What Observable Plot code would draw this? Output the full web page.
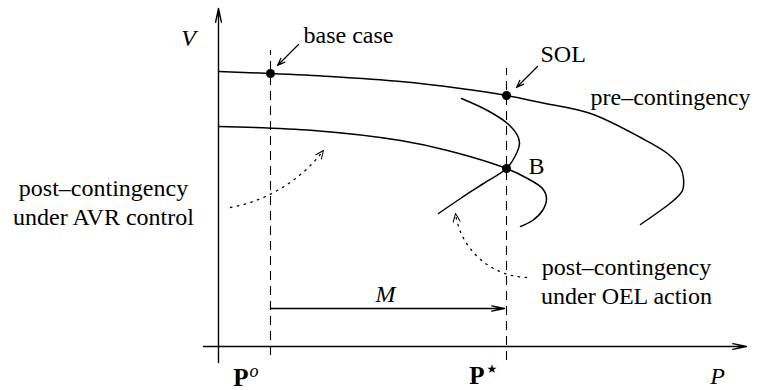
<!DOCTYPE html>
<html>
<head>
<meta charset="utf-8">
<script src="https://cdn.jsdelivr.net/npm/d3@7"></script>
<script src="https://cdn.jsdelivr.net/npm/@observablehq/plot@0.6"></script>
<style>
  body { margin: 0; background: #fff; }
</style>
</head>
<body>
<div id="chart"></div>
<script>
// Loading levels on the P axis
const P0 = 1.04;     // base-case loading
const Pstar = 5.76;  // loading at the SOL and at point B

// P–V curves, [P, V] in drawing order
const preCurve = [[0, 5.50], [1.04, 5.46], [2.24, 5.40], [3.64, 5.30], [4.84, 5.16], [5.76, 5.02],
  [6.44, 4.88], [7.44, 4.66], [8.44, 4.18], [8.98, 3.86], [9.24, 3.58], [9.30, 3.36],
  [9.28, 3.12], [9.10, 2.92], [8.84, 2.72], [8.44, 2.44]];
const avrCurve = [[0, 4.40], [1.90, 4.32], [3.64, 4.12], [4.58, 3.92], [5.76, 3.56], [6.18, 3.36],
  [6.48, 3.16], [6.56, 2.96], [6.48, 2.72], [6.28, 2.52], [6.04, 2.40]];
const oelCurve = [[4.86, 4.96], [5.38, 4.72], [5.78, 4.46], [5.98, 4.22], [6.02, 4.06], [5.94, 3.82],
  [5.76, 3.56], [5.30, 3.26], [4.84, 2.96], [4.40, 2.66]];

// Marked operating points
const points = [
  {name: "base case", P: P0, V: 5.46},
  {name: "SOL", P: Pstar, V: 5.02},
  {name: "B", P: Pstar, V: 3.56}
];

// Vertical guides at P° and P*
const guides = [
  {P: P0, from: -0.18, to: 5.92},
  {P: Pstar, from: -0.28, to: 5.56}
];

// Coordinate axes
const axes = [
  {x1: 0, y1: -0.32, x2: 0, y2: 6.76},
  {x1: -0.30, y1: 0, x2: 10.56, y2: 0}
];

// Pointers from labels to points
const pointers = [
  {x1: 1.60, y1: 6.04, x2: 1.18, y2: 5.62},
  {x1: 6.38, y1: 5.60, x2: 5.96, y2: 5.18}
];

// Dotted pointers from captions to curves (bend in degrees)
const dottedPointers = [
  {x1: 0.24, y1: 2.78, x2: 2.10, y2: 3.92, bend: -21},
  {x1: 6.16, y1: 1.38, x2: 4.74, y2: 2.66, bend: 40}
];

// Margin M between P° and P*
const margin = [{x1: P0, x2: Pstar - 0.04, V: 0.76}];

// Text labels
const startLabels = [
  {P: 1.70, V: 6.08, text: "base case"},
  {P: 6.44, V: 5.70, text: "SOL"},
  {P: 7.44, V: 4.84, text: "pre\u2013contingency"},
  {P: 6.20, V: 3.46, text: "B"}
];
const captions = [
  {P: -2.30, V: 2.44, text: "post\u2013contingency\nunder AVR control"},
  {P: 8.16, V: 0.86, text: "post\u2013contingency\nunder OEL action"}
];
const axisNames = [
  {P: -0.60, V: 6.02, text: "V"},
  {P: 9.98, V: -0.74, text: "P"},
  {P: 3.34, V: 0.90, text: "M"}
];
const loadLabels = [
  {P: P0, V: -0.78, text: "P"},
  {P: Pstar, V: -0.74, text: "P"}
];
const supO = [{P: P0, V: -0.78, text: "o"}];
const supStar = [{P: Pstar, V: -0.74, text: "\u2605"}];

const serif = "Liberation Serif";
const ink = "black";
const pxPerUnit = 50; // one unit spans the same number of pixels on both axes

// Open chevron drawn with its tip at the anchor, wings trailing behind
const chevron = {
  draw(context, l) {
    context.moveTo(-3.4, l);
    context.lineTo(0, 0);
    context.lineTo(3.4, l);
  }
};
// Direction of each dotted arc where it meets its end point
const dottedHeads = dottedPointers.map(d => {
  const chord = Math.atan2(-(d.y2 - d.y1) * pxPerUnit, (d.x2 - d.x1) * pxPerUnit);
  const end = chord + d.bend * Math.PI / 180;
  return {P: d.x2, V: d.y2, rotate: end * 180 / Math.PI + 90};
});

const chart = Plot.plot({
  width: 760,
  height: 390,
  marginTop: 0, marginRight: 0, marginBottom: 0, marginLeft: 0,
  x: {domain: [-4.36, 10.84], axis: null},
  y: {domain: [-0.88, 6.92], axis: null},
  style: {background: "white", fontFamily: serif},
  marks: [
    // axes
    Plot.arrow(axes, {x1: "x1", y1: "y1", x2: "x2", y2: "y2", stroke: ink, strokeWidth: 1.4, headLength: 15, headAngle: 24}),
    // dashed guides
    Plot.ruleX(guides, {x: "P", y1: "from", y2: "to", stroke: ink, strokeWidth: 1.1, strokeDasharray: "9,6"}),
    // curves
    Plot.line(preCurve, {x: d => d[0], y: d => d[1], curve: "catmull-rom", stroke: ink, strokeWidth: 1.5}),
    Plot.line(avrCurve, {x: d => d[0], y: d => d[1], curve: "catmull-rom", stroke: ink, strokeWidth: 1.5}),
    Plot.line(oelCurve, {x: d => d[0], y: d => d[1], curve: "catmull-rom", stroke: ink, strokeWidth: 1.5}),
    // operating points
    Plot.dot(points, {x: "P", y: "V", r: 4.5, fill: ink, stroke: null}),
    // pointers
    Plot.arrow(pointers, {x1: "x1", y1: "y1", x2: "x2", y2: "y2", stroke: ink, strokeWidth: 1.2, headLength: 10, headAngle: 40}),
    Plot.arrow(dottedPointers.filter(d => d.bend < 0), {x1: "x1", y1: "y1", x2: "x2", y2: "y2", bend: -21, stroke: ink, strokeWidth: 1.3, strokeDasharray: "1.5,5.5", headLength: 0}),
    Plot.arrow(dottedPointers.filter(d => d.bend > 0), {x1: "x1", y1: "y1", x2: "x2", y2: "y2", bend: 40, stroke: ink, strokeWidth: 1.3, strokeDasharray: "1.5,5.5", headLength: 0}),
    Plot.vector(dottedHeads, {x: "P", y: "V", rotate: "rotate", length: 8, anchor: "start", shape: chevron, stroke: ink, strokeWidth: 1}),
    // margin M
    Plot.arrow(margin, {x1: "x1", y1: "V", x2: "x2", y2: "V", stroke: ink, strokeWidth: 1.3, headLength: 15, headAngle: 24}),
    // labels
    Plot.text(startLabels, {x: "P", y: "V", text: "text", textAnchor: "start", lineAnchor: "bottom", fontFamily: serif, fontSize: 24, fill: ink}),
    Plot.text(captions, {x: "P", y: "V", text: "text", textAnchor: "middle", lineAnchor: "bottom", lineHeight: 1.17, fontFamily: serif, fontSize: 24, fill: ink}),
    Plot.text(axisNames, {x: "P", y: "V", text: "text", textAnchor: "middle", lineAnchor: "bottom", fontFamily: serif, fontSize: 24, fontStyle: "italic", fill: ink}),
    Plot.text(loadLabels, {x: "P", y: "V", text: "text", textAnchor: "end", lineAnchor: "bottom", dx: -22, fontFamily: serif, fontSize: 25, fontWeight: "bold", fill: ink}),
    Plot.text(supO, {x: "P", y: "V", text: "text", textAnchor: "start", lineAnchor: "bottom", dx: -21, dy: -9, fontFamily: serif, fontSize: 18, fontStyle: "italic", fill: ink}),
    Plot.text(supStar, {x: "P", y: "V", text: "text", textAnchor: "start", lineAnchor: "bottom", dx: -20, dy: -11, fontFamily: "DejaVu Sans", fontSize: 12, fill: ink})
  ]
});

document.getElementById("chart").append(chart);
</script>
</body>
</html>
